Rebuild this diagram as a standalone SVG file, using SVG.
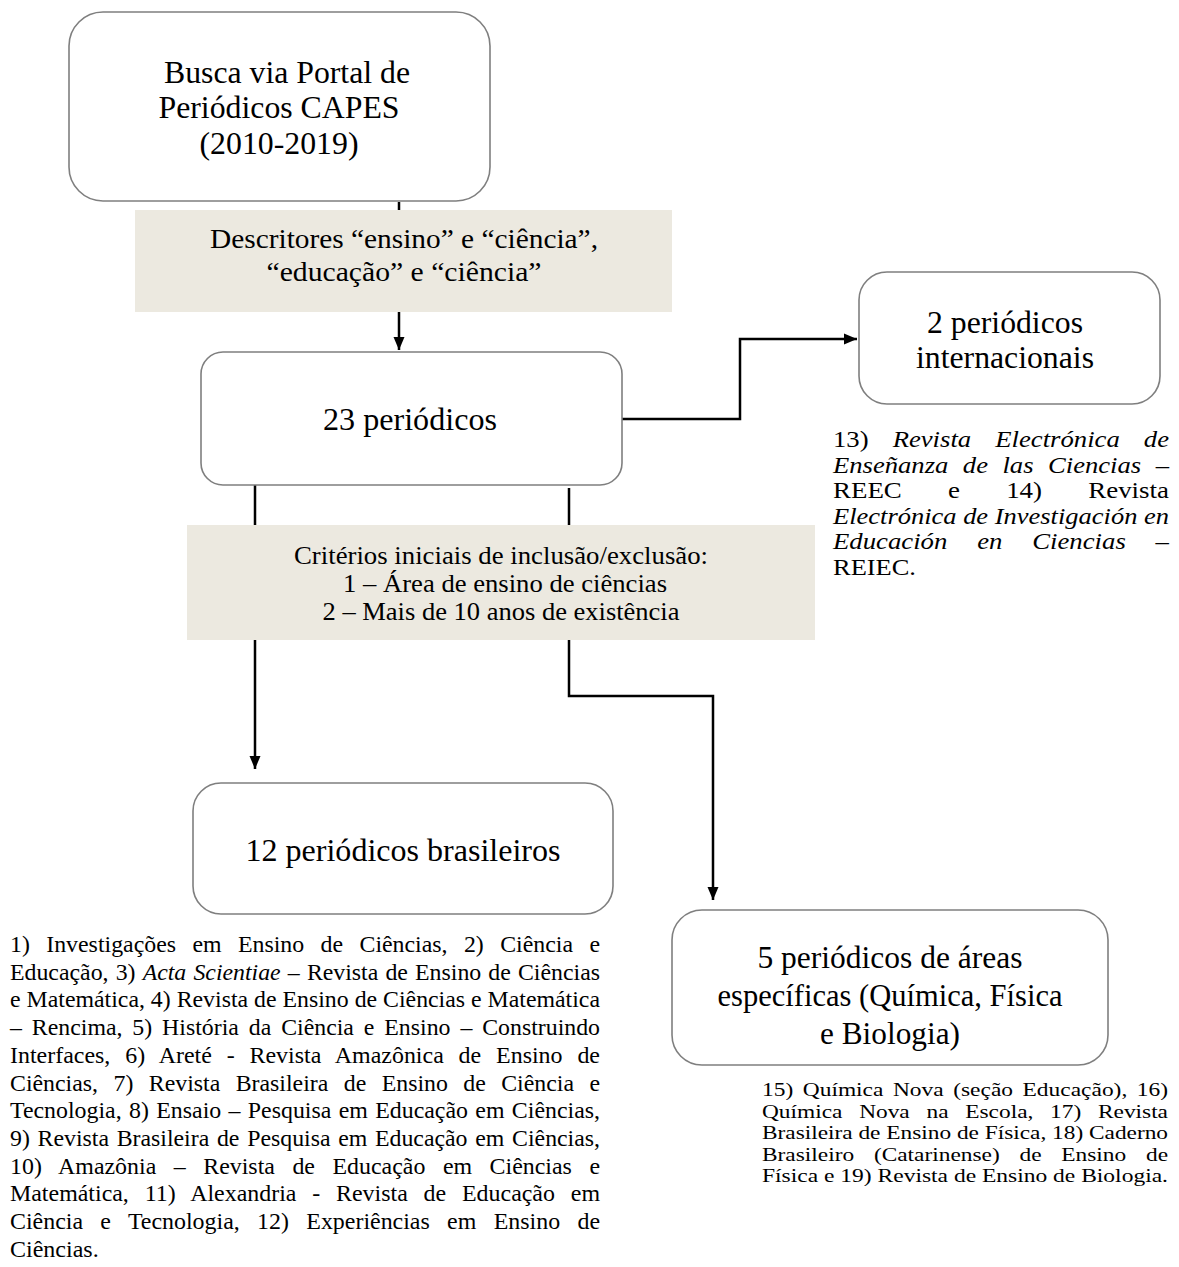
<svg xmlns="http://www.w3.org/2000/svg" width="1179" height="1267" viewBox="0 0 1179 1267">
<style>
text{font-family:"Liberation Serif","Times New Roman",serif;fill:#000}
.box{fill:#fff;stroke:#7f7f7f;stroke-width:1.6}
.beige{fill:#ECE9E0;stroke:none}
.t30{font-size:31px}
.t26{font-size:27px}
.t24{font-size:25px}
.pl{font-size:24px}
.pr{font-size:23px}
.pb{font-size:19.3px}
.it{font-style:italic}
.con{fill:none;stroke:#000;stroke-width:2.5}
</style>
<defs>
<marker id="arr" markerUnits="userSpaceOnUse" markerWidth="14" markerHeight="14" viewBox="0 0 14 14" refX="13" refY="7" orient="auto">
<path d="M0,1.5 L13,7 L0,12.5 Z" fill="#000"/>
</marker>
</defs>
<g id="connectors">
<path class="con" d="M399,202 V350" marker-end="url(#arr)"/>
<path class="con" d="M622,419 H740 V339 H857" marker-end="url(#arr)"/>
<path class="con" d="M255,485 V769" marker-end="url(#arr)"/>
<path class="con" d="M569,488 V696 H713 V900" marker-end="url(#arr)"/>
</g>
<g id="n-busca">
<rect class="box" x="69" y="12" width="421" height="189" rx="34"/>
<text class="t30" x="287" y="83" text-anchor="middle" textLength="246" lengthAdjust="spacingAndGlyphs">Busca via Portal de</text>
<text class="t30" x="279" y="118" text-anchor="middle" textLength="241" lengthAdjust="spacingAndGlyphs">Periódicos CAPES</text>
<text class="t30" x="279" y="154" text-anchor="middle" textLength="159" lengthAdjust="spacingAndGlyphs">(2010-2019)</text>
</g>
<g id="n-descritores">
<rect class="beige" x="135" y="210" width="537" height="102"/>
<text class="t26" x="404" y="248" text-anchor="middle" textLength="388" lengthAdjust="spacingAndGlyphs">Descritores “ensino” e “ciência”,</text>
<text class="t26" x="404" y="281" text-anchor="middle" textLength="275" lengthAdjust="spacingAndGlyphs">“educação” e “ciência”</text>
</g>
<g id="n-23">
<rect class="box" x="201" y="352" width="421" height="133" rx="22"/>
<text class="t30" x="410" y="430" text-anchor="middle" textLength="174" lengthAdjust="spacingAndGlyphs">23 periódicos</text>
</g>
<g id="n-internacionais">
<rect class="box" x="859" y="272" width="301" height="132" rx="28"/>
<text class="t30" x="1005" y="333" text-anchor="middle" textLength="156" lengthAdjust="spacingAndGlyphs">2 periódicos</text>
<text class="t30" x="1005" y="368" text-anchor="middle" textLength="178" lengthAdjust="spacingAndGlyphs">internacionais</text>
</g>
<g id="n-internacionais-lista">
<text class="pr" x="833" y="447" textLength="336" lengthAdjust="spacingAndGlyphs" word-spacing="15">13) <tspan class="it">Revista Electrónica de</tspan></text>
<text class="pr it" x="833" y="472.6" textLength="336" lengthAdjust="spacingAndGlyphs" word-spacing="6.8">Enseñanza de las Ciencias –</text>
<text class="pr" x="833" y="498.2" textLength="336" lengthAdjust="spacingAndGlyphs" word-spacing="33.7">REEC e 14) Revista</text>
<text class="pr it" x="833" y="523.8" textLength="336" lengthAdjust="spacingAndGlyphs">Electrónica de Investigación en</text>
<text class="pr it" x="833" y="549.4" textLength="336" lengthAdjust="spacingAndGlyphs" word-spacing="19.9">Educación en Ciencias –</text>
<text class="pr" x="833" y="575" textLength="83" lengthAdjust="spacingAndGlyphs">REIEC.</text>
</g>
<g id="n-criterios">
<rect class="beige" x="187" y="525" width="628" height="115"/>
<text class="t24" x="501" y="564" text-anchor="middle" textLength="414" lengthAdjust="spacingAndGlyphs">Critérios iniciais de inclusão/exclusão:</text>
<text class="t24" x="505" y="592" text-anchor="middle" textLength="324" lengthAdjust="spacingAndGlyphs">1 – Área de ensino de ciências</text>
<text class="t24" x="501" y="620" text-anchor="middle" textLength="357" lengthAdjust="spacingAndGlyphs">2 – Mais de 10 anos de existência</text>
</g>
<g id="n-brasileiros">
<rect class="box" x="193" y="783" width="420" height="131" rx="28"/>
<text class="t30" x="403" y="861" text-anchor="middle" textLength="315" lengthAdjust="spacingAndGlyphs">12 periódicos brasileiros</text>
</g>
<g id="n-brasileiros-lista">
<text class="pl" x="10" y="952" textLength="590" lengthAdjust="spacingAndGlyphs" word-spacing="10.5">1) Investigações em Ensino de Ciências, 2) Ciência e</text>
<text class="pl" x="10" y="979.7" textLength="590" lengthAdjust="spacingAndGlyphs" word-spacing="1.2">Educação, 3) <tspan class="it">Acta Scientiae</tspan> – Revista de Ensino de Ciências</text>
<text class="pl" x="10" y="1007.4" textLength="590" lengthAdjust="spacingAndGlyphs">e Matemática, 4) Revista de Ensino de Ciências e Matemática</text>
<text class="pl" x="10" y="1035.1" textLength="590" lengthAdjust="spacingAndGlyphs" word-spacing="4">– Rencima, 5) História da Ciência e Ensino – Construindo</text>
<text class="pl" x="10" y="1062.8" textLength="590" lengthAdjust="spacingAndGlyphs" word-spacing="8.9">Interfaces, 6) Areté - Revista Amazônica de Ensino de</text>
<text class="pl" x="10" y="1090.5" textLength="590" lengthAdjust="spacingAndGlyphs" word-spacing="9.5">Ciências, 7) Revista Brasileira de Ensino de Ciência e</text>
<text class="pl" x="10" y="1118.2" textLength="590" lengthAdjust="spacingAndGlyphs" word-spacing="1.4">Tecnologia, 8) Ensaio – Pesquisa em Educação em Ciências,</text>
<text class="pl" x="10" y="1145.9" textLength="590" lengthAdjust="spacingAndGlyphs" word-spacing="1.8">9) Revista Brasileira de Pesquisa em Educação em Ciências,</text>
<text class="pl" x="10" y="1173.6" textLength="590" lengthAdjust="spacingAndGlyphs" word-spacing="11.6">10) Amazônia – Revista de Educação em Ciências e</text>
<text class="pl" x="10" y="1201.3" textLength="590" lengthAdjust="spacingAndGlyphs" word-spacing="9.9">Matemática, 11) Alexandria - Revista de Educação em</text>
<text class="pl" x="10" y="1229" textLength="590" lengthAdjust="spacingAndGlyphs" word-spacing="11.4">Ciência e Tecnologia, 12) Experiências em Ensino de</text>
<text class="pl" x="10" y="1256.7">Ciências.</text>
</g>
<g id="n-especificas">
<rect class="box" x="672" y="910" width="436" height="155" rx="30"/>
<text class="t30" x="890" y="968" text-anchor="middle" textLength="265" lengthAdjust="spacingAndGlyphs">5 periódicos de áreas</text>
<text class="t30" x="890" y="1006" text-anchor="middle" textLength="345" lengthAdjust="spacingAndGlyphs">específicas (Química, Física</text>
<text class="t30" x="890" y="1044" text-anchor="middle" textLength="140" lengthAdjust="spacingAndGlyphs">e Biologia)</text>
</g>
<g id="n-especificas-lista">
<text class="pb" x="762" y="1096" textLength="406" lengthAdjust="spacingAndGlyphs" word-spacing="3">15) Química Nova (seção Educação), 16)</text>
<text class="pb" x="762" y="1117.6" textLength="406" lengthAdjust="spacingAndGlyphs" word-spacing="9">Química Nova na Escola, 17) Revista</text>
<text class="pb" x="762" y="1139.2" textLength="406" lengthAdjust="spacingAndGlyphs">Brasileira de Ensino de Física, 18) Caderno</text>
<text class="pb" x="762" y="1160.8" textLength="406" lengthAdjust="spacingAndGlyphs" word-spacing="11.5">Brasileiro (Catarinense) de Ensino de</text>
<text class="pb" x="762" y="1182.4" textLength="406" lengthAdjust="spacingAndGlyphs">Física e 19) Revista de Ensino de Biologia.</text>
</g>
</svg>
